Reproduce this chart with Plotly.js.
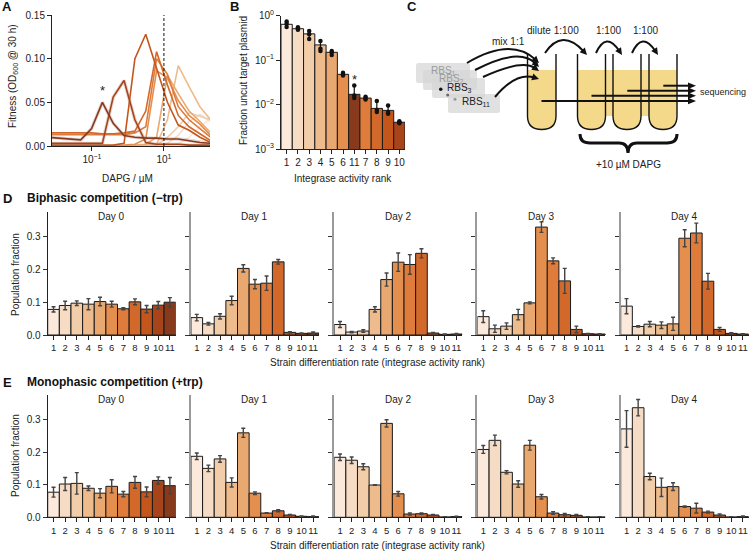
<!DOCTYPE html>
<html><head><meta charset="utf-8">
<script src="https://cdn.plot.ly/plotly-3.0.1.min.js"></script>
<style>body{margin:0;background:#fff}#chart{width:750px;height:551px}</style>
</head><body><div id="chart"></div>
<script>
// ================= DATA =================
const strainColors = ['#fbe9db','#f6dcc4','#f2cda9','#eebb8c','#e9a86f','#e58f4f','#df7b3b','#d2692b','#c4561c','#a8441a','#873a1c'];
const ranks = ['1','2','3','4','5','6','7','8','9','10','11'];

// Panel A: fitness vs DAPG (uM)
const dapgConc = [0.0061,0.0122,0.0244,0.0488,0.0977,0.195,0.39,0.78,1.56,3.125,6.25,12.5,25,50,100,200];
const fitness1  = [0,0,0,0,0,0,0,0,0,0,0,0,0.002,0.010,0.022,0.032];
const fitness2  = [0,0,0,0,0,0,0,0,0,0,0,0.003,0.012,0.028,0.036,0.028];
const fitness3  = [0,0,0,0,0,0,0,0,0,0,0.001,0.010,0.022,0.038,0.034,0.030];
const fitness4  = [0,0,0,0,0,0,0,0,0,0.001,0.002,0.030,0.092,0.068,0.045,0.030];
const fitness5  = [0,0,0,0,0,0,0,0,0.001,0.002,0.010,0.081,0.060,0.040,0.028,0.015];
const fitness6  = [0,0,0,0,0,0,0,0.001,0.002,0.008,0.086,0.078,0.052,0.035,0.025,0.012];
const fitness7  = [0.013,0.013,0.013,0.013,0.013,0.013,0.013,0.013,0.015,0.022,0.100,0.082,0.045,0.030,0.020,0.010];
const fitness8  = [0.015,0.015,0.015,0.015,0.015,0.014,0.014,0.015,0.017,0.040,0.108,0.070,0.035,0.022,0.014,0.006];
const fitness9  = [0.001,0.001,0.001,0.001,0.001,0.001,0.001,0.003,0.100,0.128,0.088,0.050,0.024,0.018,0.010,0.004];
const fitness10 = [0.003,0.003,0.003,0.003,0.003,0.003,0.056,0.075,0.030,0.004,0.002,0.002,0.002,0.001,0.001,0.001];
const fitness11 = [0.010,0.009,0.008,0.007,0.020,0.050,0.026,0.012,0.010,0.009,0.009,0.008,0.008,0.006,0.004,0.003];
const fitnessAll = [fitness1,fitness2,fitness3,fitness4,fitness5,fitness6,fitness7,fitness8,fitness9,fitness10,fitness11];

// Panel B: fraction uncut target plasmid
const bOrder = ['1','2','3','4','5','6','11','7','8','9','10'];
const bMean  = [0.64,0.51,0.39,0.22,0.15,0.048,0.017,0.014,0.0082,0.0074,0.0040];
const bRep1  = [0.74,0.55,0.45,0.27,0.16,0.052,0.027,0.015,0.012,0.0095,0.0042];
const bRep2  = [0.66,0.50,0.38,0.18,0.15,0.048,0.016,0.014,0.0075,0.0068,0.0040];
const bRep3  = [0.56,0.48,0.30,0.16,0.13,0.045,0.014,0.013,0.0068,0.0062,0.0038];

// Panel D: biphasic competition (-trp)
const dDay0 = [0.078,0.090,0.097,0.094,0.102,0.094,0.080,0.101,0.079,0.091,0.100];
const dErr0 = [0.008,0.013,0.007,0.017,0.013,0.009,0.003,0.009,0.011,0.011,0.014];
const dDay1 = [0.053,0.034,0.057,0.105,0.203,0.155,0.158,0.223,0.008,0.005,0.006];
const dErr1 = [0.010,0.004,0.008,0.013,0.011,0.014,0.022,0.007,0.002,0.001,0.003];
const dDay2 = [0.032,0.009,0.012,0.078,0.169,0.222,0.215,0.249,0.006,0.002,0.003];
const dErr2 = [0.009,0.002,0.004,0.008,0.020,0.028,0.030,0.014,0.002,0.001,0.002];
const dDay3 = [0.056,0.019,0.027,0.062,0.098,0.329,0.226,0.165,0.017,0.004,0.003];
const dErr3 = [0.018,0.011,0.010,0.016,0.003,0.016,0.009,0.038,0.010,0.001,0.001];
const dDay4 = [0.088,0.026,0.033,0.030,0.034,0.295,0.311,0.164,0.017,0.005,0.003];
const dErr4 = [0.023,0.002,0.008,0.010,0.020,0.026,0.030,0.024,0.006,0.002,0.001];

// Panel E: monophasic competition (+trp)
const eDay0 = [0.077,0.102,0.104,0.089,0.074,0.095,0.071,0.107,0.078,0.113,0.097];
const eErr0 = [0.015,0.020,0.033,0.007,0.014,0.020,0.008,0.018,0.015,0.011,0.025];
const eDay1 = [0.187,0.150,0.179,0.107,0.259,0.074,0.013,0.020,0.007,0.003,0.002];
const eErr1 = [0.010,0.010,0.010,0.014,0.014,0.004,0.001,0.003,0.002,0.001,0.002];
const eDay2 = [0.184,0.175,0.155,0.099,0.288,0.072,0.010,0.011,0.007,0.001,0.002];
const eErr2 = [0.010,0.010,0.009,0.001,0.011,0.007,0.003,0.002,0.002,0.001,0.001];
const eDay3 = [0.208,0.236,0.138,0.102,0.221,0.063,0.013,0.008,0.006,0.001,0.001];
const eErr3 = [0.012,0.016,0.005,0.010,0.015,0.007,0.004,0.004,0.003,0.001,0.001];
const eDay4 = [0.271,0.336,0.125,0.092,0.094,0.033,0.028,0.016,0.007,0.001,0.002];
const eErr4 = [0.056,0.025,0.010,0.028,0.012,0.002,0.015,0.003,0.003,0.001,0.002];

const dayLabels = ['Day 0','Day 1','Day 2','Day 3','Day 4'];
const dValues = [dDay0,dDay1,dDay2,dDay3,dDay4];
const dErrors = [dErr0,dErr1,dErr2,dErr3,dErr4];
const eValues = [eDay0,eDay1,eDay2,eDay3,eDay4];
const eErrors = [eErr0,eErr1,eErr2,eErr3,eErr4];

// ================= LAYOUT HELPERS =================
const W = 750, H = 551;
const FONT = 'Liberation Sans, Arial, Helvetica, sans-serif';
const TXT = '#222';
const px = x => x / W;
const py = y => 1 - y / H;
function note(text, x, y, opt) {
  return Object.assign({text, x: px(x), y: py(y), xref: 'paper', yref: 'paper', showarrow: false,
    font: {family: FONT, size: 10, color: TXT}, xanchor: 'center', yanchor: 'middle'}, opt || {});
}

const traces = [];
const layout = {
  width: W, height: H, margin: {l: 0, r: 0, t: 0, b: 0},
  paper_bgcolor: '#fff', plot_bgcolor: 'rgba(0,0,0,0)',
  showlegend: false, bargap: 0,
  font: {family: FONT, size: 10, color: TXT},
  annotations: [], shapes: []
};
const baseAxis = {showgrid: false, zeroline: false, showline: true, linecolor: '#222', linewidth: 1,
  ticks: 'outside', ticklen: 4, tickwidth: 1, tickcolor: '#222', tickangle: 0,
  tickfont: {family: FONT, size: 10, color: TXT}, fixedrange: true};

// ================= PANEL A =================
layout.xaxis = Object.assign({}, baseAxis, {domain: [px(52), px(210)], anchor: 'y', type: 'log',
  range: [-2.11, 2.28], tickvals: [0.1, 10], ticktext: ['10<sup>\u22121</sup>', '10<sup>1</sup>']});
layout.yaxis = Object.assign({}, baseAxis, {domain: [py(146), py(15)], anchor: 'x', range: [0, 0.15],
  tickvals: [0, 0.05, 0.10, 0.15], ticktext: ['0.00', '0.05', '0.10', '0.15']});
fitnessAll.forEach((f, i) => {
  if (i >= 9) {
    traces.push({type: 'scatter', mode: 'lines', x: dapgConc, y: f, xaxis: 'x', yaxis: 'y',
      line: {color: 'rgba(170,125,115,0.3)', width: 3.5}, hoverinfo: 'skip', cliponaxis: true});
  }
  traces.push({type: 'scatter', mode: 'lines', x: dapgConc, y: f, xaxis: 'x', yaxis: 'y',
    line: {color: strainColors[i], width: 1.6}, cliponaxis: true});
});
layout.shapes.push({type: 'line', xref: 'x', yref: 'y domain', x0: 10, x1: 10, y0: 0, y1: 1,
  line: {color: '#111', width: 1, dash: '3px,2px'}});
layout.annotations.push({text: '*', x: Math.log10(0.195), y: 0.064, xref: 'x', yref: 'y', showarrow: false,
  font: {family: FONT, size: 13, color: TXT}});

// ================= PANEL B =================
layout.xaxis2 = Object.assign({}, baseAxis, {domain: [px(281), px(405)], anchor: 'y2', type: 'category',
  range: [-0.5, 10.5], tickmode: 'array', tickvals: bOrder, ticktext: bOrder});
layout.yaxis2 = Object.assign({}, baseAxis, {domain: [py(149), py(15.7)], anchor: 'x2', type: 'log',
  range: [-3, 0], tickvals: [1, 0.1, 0.01, 0.001],
  ticktext: ['10<sup>0</sup>', '10<sup>\u22121</sup>', '10<sup>\u22122</sup>', '10<sup>\u22123</sup>']});
const bMax = bMean.map((m, i) => Math.max(bRep1[i], bRep2[i], bRep3[i]) - m);
const bMin = bMean.map((m, i) => m - Math.min(bRep1[i], bRep2[i], bRep3[i]));
traces.push({type: 'bar', x: bOrder, y: bMean, xaxis: 'x2', yaxis: 'y2',
  marker: {color: bOrder.map(r => strainColors[+r - 1]), line: {color: '#1a1a1a', width: 1}},
  error_y: {type: 'data', array: bMax, arrayminus: bMin, color: '#111', thickness: 1.2, width: 0}});
[bRep1, bRep2, bRep3].forEach(rep => {
  traces.push({type: 'scatter', mode: 'markers', x: bOrder, y: rep, xaxis: 'x2', yaxis: 'y2',
    marker: {color: '#111', size: 4.5}});
});
layout.annotations.push({text: '*', x: 6, y: Math.log10(0.036), xref: 'x2', yref: 'y2', showarrow: false,
  font: {family: FONT, size: 13, color: TXT}});

// ================= PANEL C (schematic) =================
layout.xaxis3 = {domain: [px(400), 1], range: [400, 750], visible: false, fixedrange: true, anchor: 'y3'};
layout.yaxis3 = {domain: [py(170), 1], range: [170, 0], visible: false, fixedrange: true, anchor: 'x3'};
traces.push({type: 'scatter', mode: 'markers', x: [], y: [], xaxis: 'x3', yaxis: 'y3'});
const C = (o) => Object.assign({xref: 'x3', yref: 'y3'}, o);
function head(tx, ty, fx, fy, L, Wd) {
  const dx = tx - fx, dy = ty - fy, d = Math.hypot(dx, dy), ux = dx / d, uy = dy / d;
  const bx = tx - ux * L, by = ty - uy * L, nx = -uy, ny = ux;
  return C({type: 'path', path: `M ${tx} ${ty} L ${bx + nx * Wd} ${by + ny * Wd} L ${bx - nx * Wd} ${by - ny * Wd} Z`,
    fillcolor: '#111', line: {width: 0}});
}
function curvedArrow(x0, y0, cx, cy, x1, y1) {
  const dx = x1 - cx, dy = y1 - cy, d = Math.hypot(dx, dy);
  const ex = x1 - dx / d * 5, ey = y1 - dy / d * 5;
  layout.shapes.push(C({type: 'path', path: `M ${x0} ${y0} Q ${cx} ${cy} ${ex} ${ey}`, line: {color: '#111', width: 2}}));
  layout.shapes.push(head(x1, y1, cx, cy, 7, 3.5));
}
function roundRect(x0, x1, y0, y1, r) {
  return `M ${x0 + r} ${y0} L ${x1 - r} ${y0} Q ${x1} ${y0} ${x1} ${y0 + r} L ${x1} ${y1 - r} Q ${x1} ${y1} ${x1 - r} ${y1} ` +
         `L ${x0 + r} ${y1} Q ${x0} ${y1} ${x0} ${y1 - r} L ${x0} ${y0 + r} Q ${x0} ${y0} ${x0 + r} ${y0} Z`;
}
// cards
[[416, 470, 63, 83], [423, 477, 70, 90], [432, 485, 78, 98], [448, 500, 94, 113]].forEach(b => {
  layout.shapes.push(C({type: 'path', path: roundRect(b[0], b[1], b[2], b[3], 2.5), fillcolor: '#d6d6d6', opacity: 0.72, line: {width: 0}}));
});
layout.shapes.push(C({type: 'circle', x0: 439, x1: 442.5, y0: 87.5, y1: 91, fillcolor: '#111', line: {width: 0}}));
layout.shapes.push(C({type: 'circle', x0: 446.2, x1: 449.2, y0: 93.5, y1: 96.5, fillcolor: '#666', line: {width: 0}}));
layout.shapes.push(C({type: 'circle', x0: 453.5, x1: 456.5, y0: 97.8, y1: 100.8, fillcolor: '#999', line: {width: 0}}));
// liquid + tubes
const tubes = [[527.5, 556], [577.5, 605.5], [613, 641], [649, 677]];
layout.shapes.push(C({type: 'rect', x0: 605.5, x1: 613, y0: 70, y1: 116, fillcolor: '#f4d98b', line: {width: 0}}));
layout.shapes.push(C({type: 'rect', x0: 641, x1: 649, y0: 70, y1: 116, fillcolor: '#f4d98b', line: {width: 0}}));
tubes.forEach(t => {
  const [l, r] = t, m = (l + r) / 2;
  layout.shapes.push(C({type: 'path', path: `M ${l} 70 L ${l} 116 Q ${l} 129.5 ${m} 129.5 Q ${r} 129.5 ${r} 116 L ${r} 70 Z`,
    fillcolor: '#f4d98b', line: {width: 0}}));
  layout.shapes.push(C({type: 'path', path: `M ${l} 54 L ${l} 116 Q ${l} 129.5 ${m} 129.5 Q ${r} 129.5 ${r} 116 L ${r} 54`,
    line: {color: '#111', width: 1.4}}));
});
// mix arrows
curvedArrow(467, 63, 511, 37, 539, 63);
curvedArrow(475, 70, 519, 47, 539, 67);
curvedArrow(483, 77, 522, 59, 539, 71);
curvedArrow(495, 97, 516, 72, 539, 79);
// dilution arrows
curvedArrow(545, 53, 562, 28, 587, 55);
curvedArrow(596, 53, 606, 31, 622, 55);
curvedArrow(632, 53, 642, 31, 658, 55);
// sequencing arrows
[[541.5, 101], [591.5, 95.7], [627.3, 90.7], [663.3, 85.7]].forEach(a => {
  layout.shapes.push(C({type: 'line', x0: a[0], x1: 690, y0: a[1], y1: a[1], line: {color: '#111', width: 2}}));
  layout.shapes.push(head(696, a[1], 680, a[1], 8, 3.2));
});
// brace
layout.shapes.push(C({type: 'path',
  path: 'M 580 134 Q 580 143 590 143 L 619 143 Q 628 143 628 153 Q 628 143 637 143 L 667 143 Q 677 143 677 134',
  line: {color: '#111', width: 3}}));
// texts
layout.annotations.push(note('RBS<sub>1</sub>', 443, 71, {font: {family: FONT, size: 10, color: '#9a9a9a'}}));
layout.annotations.push(note('RBS<sub>2</sub>', 451, 79, {font: {family: FONT, size: 10, color: '#9a9a9a'}}));
layout.annotations.push(note('RBS<sub>3</sub>', 460, 87.5, {font: {family: FONT, size: 10, color: '#222'}}));
layout.annotations.push(note('RBS<sub>11</sub>', 476, 101.5, {font: {family: FONT, size: 10, color: '#222'}}));
layout.annotations.push(note('mix 1:1', 508, 41));
layout.annotations.push(note('dilute 1:100', 553, 31));
layout.annotations.push(note('1:100', 608, 31));
layout.annotations.push(note('1:100', 645, 31));
layout.annotations.push(note('sequencing', 698, 92, {xanchor: 'left', font: {family: FONT, size: 9, color: TXT}}));
layout.annotations.push(note('+10 \u00b5M DAPG', 628, 164));

// ================= PANELS D & E =================
const rankNum = ranks.map(Number);
const colLeft = [47.7, 190.95, 334.2, 477.45, 620.7];
const colWidth = 128;
function buildRow(values, errors, yTop, yBottom, axisStart) {
  values.forEach((vals, k) => {
    const n = axisStart + k;
    const xa = 'xaxis' + n, ya = 'yaxis' + n;
    layout[xa] = Object.assign({}, baseAxis, {domain: [px(colLeft[k]), px(colLeft[k] + colWidth)], anchor: 'y' + n,
      range: [0.5, 11.5], tickmode: 'array', tickvals: rankNum, ticktext: ranks,
      tickfont: {family: FONT, size: 9.5, color: TXT}});
    layout[ya] = Object.assign({}, baseAxis, {domain: [py(yBottom), py(yTop)], anchor: 'x' + n,
      range: [0, 0.375], tickvals: [0, 0.1, 0.2, 0.3], ticktext: ['0.0', '0.1', '0.2', '0.3'],
      showticklabels: k === 0, linecolor: k === 0 ? '#222' : '#9a9a9a', linewidth: k === 0 ? 1 : 2, tickcolor: '#333'});
    traces.push({type: 'bar', x: rankNum, y: vals, xaxis: 'x' + n, yaxis: 'y' + n,
      marker: {color: strainColors, line: {color: '#1a1a1a', width: 1}},
      error_y: {type: 'data', array: errors[k], color: '#444', thickness: 1.4, width: 2}});
    layout.annotations.push(note(dayLabels[k], colLeft[k] + colWidth / 2, yTop + 4));
  });
}
buildRow(dValues, dErrors, 212, 335, 4);
buildRow(eValues, eErrors, 395, 517.3, 9);

// ================= TITLES & LABELS =================
const bold = (s) => '<b>' + s + '</b>';
layout.annotations.push(note(bold('A'), 7, 7, {font: {family: FONT, size: 13, color: '#111'}}));
layout.annotations.push(note(bold('B'), 234, 7, {font: {family: FONT, size: 13, color: '#111'}}));
layout.annotations.push(note(bold('C'), 412, 7, {font: {family: FONT, size: 13, color: '#111'}}));
layout.annotations.push(note(bold('D'), 7, 198, {font: {family: FONT, size: 13, color: '#111'}}));
layout.annotations.push(note(bold('E'), 7, 382, {font: {family: FONT, size: 13, color: '#111'}}));
layout.annotations.push(note(bold('Biphasic competition (\u2212trp)'), 25, 198, {xanchor: 'left', font: {family: FONT, size: 12, color: '#111'}}));
layout.annotations.push(note(bold('Monophasic competition (+trp)'), 25, 382, {xanchor: 'left', font: {family: FONT, size: 12, color: '#111'}}));
layout.annotations.push(note('Fitness (OD<sub>600</sub> @ 30 h)', 13, 76, {textangle: -90}));
layout.annotations.push(note('DAPG / \u00b5M', 127, 178));
layout.annotations.push(note('Fraction uncut target plasmid', 243, 81, {textangle: -90}));
layout.annotations.push(note('Integrase activity rank', 343, 178));
layout.annotations.push(note('Population fraction', 15, 275, {textangle: -90}));
layout.annotations.push(note('Population fraction', 15, 456, {textangle: -90}));
layout.annotations.push(note('Strain differentiation rate (integrase activity rank)', 377, 362));
layout.annotations.push(note('Strain differentiation rate (integrase activity rank)', 377, 545));

Plotly.newPlot('chart', traces, layout, {staticPlot: true, displayModeBar: false});
</script>
</body></html>
